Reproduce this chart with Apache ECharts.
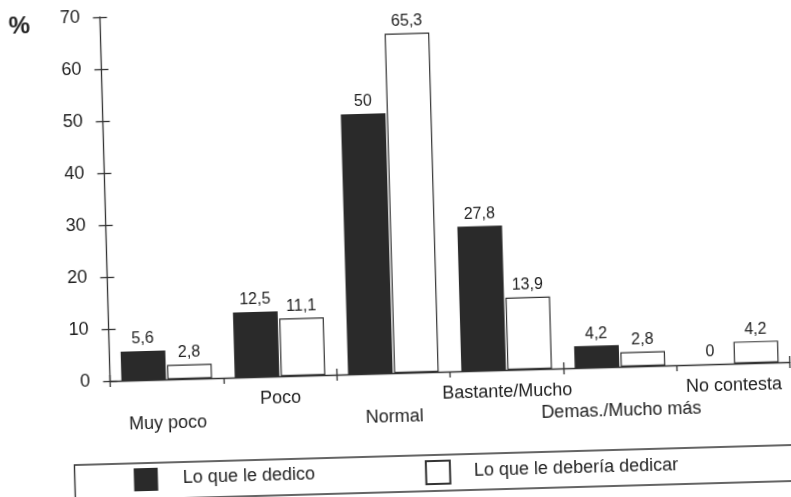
<!DOCTYPE html>
<html>
<head>
<meta charset="utf-8">
<script src="https://cdn.jsdelivr.net/npm/echarts@6/dist/echarts.min.js"></script>
<style>
  html, body { margin: 0; padding: 0; background: #fff; overflow: hidden; }
  #chart { width: 791px; height: 497px; transform: rotate(-1.6deg); transform-origin: 50% 50%; }
</style>
</head>
<body>
<div id="chart"></div>
<script>
// Categories along the x axis
const categories = ['Muy poco', 'Poco', 'Normal', 'Bastante/Mucho', 'Demas./Mucho más', 'No contesta'];
// Series values (%)
const loQueLeDedico = [5.6, 12.5, 50, 27.8, 4.2, 0];
const loQueLeDeberiaDedicar = [2.8, 11.1, 65.3, 13.9, 2.8, 4.2];
// Value axis range
const yMin = 0;
const yMax = 70;
const yStep = 10;

const seriesNames = ['Lo que le dedico', 'Lo que le debería dedicar'];

const FONT = '"Liberation Sans", Arial, Helvetica, sans-serif';
const INK = '#222';
const AXIS = '#333';

const chart = echarts.init(document.getElementById('chart'), null, { renderer: 'canvas' });

const fmtValue = p => String(p.value).replace('.', ',');

const valueLabel = {
  show: true,
  position: 'top',
  distance: 4,
  color: INK,
  fontFamily: FONT,
  fontSize: 16,
  formatter: fmtValue
};

const grid = { left: 106.5, right: 4.3, top: 8.8, bottom: 124, containLabel: false };

const option = {
  animation: false,
  backgroundColor: '#fff',
  grid: grid,
  legend: [
    {
      data: [seriesNames[0]],
      left: 127.6, top: 461, padding: 0,
      itemWidth: 24, itemHeight: 23,
      icon: 'rect',
      textStyle: { color: INK, fontFamily: FONT, fontSize: 18, padding: [0, 0, 0, 20] },
      selectedMode: false
    },
    {
      data: [seriesNames[1]],
      left: 418.8, top: 461, padding: 0,
      itemWidth: 24, itemHeight: 23,
      icon: 'rect',
      textStyle: { color: INK, fontFamily: FONT, fontSize: 18, padding: [0, 0, 0, 19] },
      selectedMode: false
    }
  ],
  xAxis: [
    {
      type: 'category',
      data: categories,
      position: 'bottom',
      boundaryGap: true,
      axisLine: { show: true, lineStyle: { color: AXIS, width: 1.3 } },
      axisTick: { show: true, length: 6, lineStyle: { color: AXIS, width: 1.3 } },
      axisLabel: {
        color: INK, fontFamily: FONT, fontSize: 18, margin: 11, lineHeight: 22,
        interval: 0,
        // alternate labels are dropped one line lower
        formatter: (v, i) => (i % 2 === 0 ? '\n' + v : v)
      },
      splitLine: { show: false }
    },
    {
      type: 'category',
      data: categories,
      position: 'bottom',
      boundaryGap: true,
      axisLine: { show: false },
      axisTick: { show: true, inside: true, length: 6, lineStyle: { color: AXIS, width: 1.3 } },
      axisLabel: { show: false },
      splitLine: { show: false }
    }
  ],
  yAxis: [
    {
      type: 'value',
      min: yMin, max: yMax, interval: yStep,
      position: 'left',
      axisLine: { show: true, lineStyle: { color: AXIS, width: 1.3 } },
      axisTick: { show: true, length: 7, lineStyle: { color: AXIS, width: 1.3 } },
      axisLabel: { color: INK, fontFamily: FONT, fontSize: 18, margin: 20 },
      splitLine: { show: false }
    },
    {
      type: 'value',
      min: yMin, max: yMax, interval: yStep,
      position: 'left',
      axisLine: { show: false },
      axisTick: { show: true, inside: true, length: 7, lineStyle: { color: AXIS, width: 1.3 } },
      axisLabel: { show: false },
      splitLine: { show: false }
    }
  ],
  series: [
    {
      name: seriesNames[0],
      type: 'bar',
      xAxisIndex: 0, yAxisIndex: 0,
      data: loQueLeDedico,
      barCategoryGap: '20%',
      barGap: '3%',
      itemStyle: { color: '#2a2a2a', borderWidth: 0 },
      label: valueLabel
    },
    {
      name: seriesNames[1],
      type: 'bar',
      xAxisIndex: 0, yAxisIndex: 0,
      data: loQueLeDeberiaDedicar,
      barCategoryGap: '20%',
      barGap: '3%',
      itemStyle: { color: '#ffffff', borderColor: '#333', borderWidth: 1.2 },
      label: valueLabel
    }
  ],
  graphic: [
    {
      type: 'text',
      left: 15, top: 4,
      style: { text: '%', fill: INK, font: 'bold 24px ' + FONT }
    },
    {
      type: 'rect',
      left: 66, top: 453.5,
      shape: { width: 760, height: 36 },
      style: { fill: 'none', stroke: AXIS, lineWidth: 1.4 },
      z: -1
    }
  ]
};

chart.setOption(option);
</script>
</body>
</html>
